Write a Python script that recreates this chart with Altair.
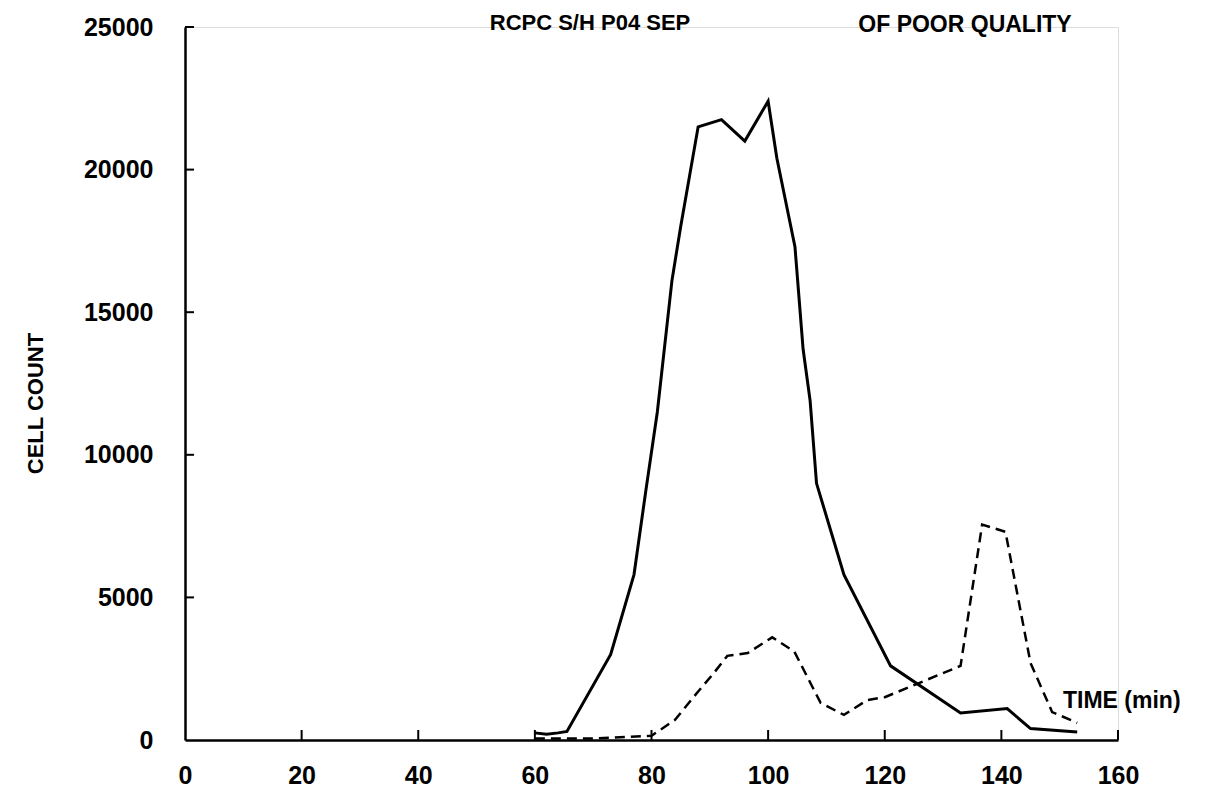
import altair as alt
import pandas as pd

# Solid curve (time in min, cell count)
solid_time = [60, 62, 64, 65.5, 73, 77, 79, 81, 83.5, 85, 88, 92, 96, 100, 101.5, 104.6, 106, 107.2, 108.3, 113, 121, 133, 141, 145, 153]
solid_count = [250, 200, 250, 300, 3000, 5800, 8700, 11500, 16100, 18000, 21500, 21750, 21000, 22400, 20400, 17300, 13700, 11900, 9000, 5800, 2600, 950, 1100, 400, 280]

# Dashed curve
dash_time = [60, 70, 80, 84, 88, 90.5, 93, 96.5, 100.7, 104.5, 107, 109, 113, 117, 120, 133, 136.7, 140.7, 145, 148.7, 153]
dash_count = [50, 50, 150, 700, 1700, 2300, 2950, 3050, 3600, 3100, 2100, 1300, 880, 1400, 1500, 2600, 7550, 7300, 2700, 980, 600]

x_ticks = [0, 20, 40, 60, 80, 100, 120, 140, 160]
y_ticks = [0, 5000, 10000, 15000, 20000, 25000]

W, H = 933, 713
FONT = "Liberation Sans, Arial, Helvetica, sans-serif"

solid_df = pd.DataFrame({"time": solid_time, "count": solid_count})
dash_df = pd.DataFrame({"time": dash_time, "count": dash_count})
xt_df = pd.DataFrame({"t": x_ticks[1:]})
yt_df = pd.DataFrame({"c": y_ticks[1:]})

xscale = alt.Scale(domain=[0, 160], nice=False, zero=False)
yscale = alt.Scale(domain=[0, 25000], nice=False)

xaxis = alt.Axis(values=x_ticks, format="d", ticks=False, grid=False, domainColor="black", domainWidth=2.5,
                 labelFont=FONT, labelFontSize=25, labelFontWeight="bold", labelColor="black",
                 labelPadding=23, labelFlush=False, labelOverlap=False, title=None)
yaxis = alt.Axis(values=y_ticks, format="d", ticks=False, grid=False, domainColor="black", domainWidth=2.5,
                 labelFont=FONT, labelFontSize=25, labelFontWeight="bold", labelColor="black",
                 labelPadding=32, labelFlush=False, labelOverlap=False,
                 title="CELL COUNT", titleFont=FONT, titleFontSize=22, titleFontWeight="bold",
                 titleColor="black", titleX=-150, titleY=376, titleAngle=-90,
                 titleAlign="center", titleBaseline="middle")

solid = alt.Chart(solid_df).mark_line(color="black", strokeWidth=3).encode(
    x=alt.X("time:Q", scale=xscale, axis=xaxis),
    y=alt.Y("count:Q", scale=yscale, axis=yaxis),
)
dashed = alt.Chart(dash_df).mark_line(color="black", strokeWidth=2.5, strokeDash=[10, 6]).encode(
    x=alt.X("time:Q", scale=xscale),
    y=alt.Y("count:Q", scale=yscale),
)
xt = alt.Chart(xt_df).mark_rule(color="black", strokeWidth=2).encode(
    x=alt.X("t:Q", scale=xscale), y=alt.value(H), y2=alt.value(H - 10)
)
yt = alt.Chart(yt_df).mark_rule(color="black", strokeWidth=2).encode(
    y=alt.Y("c:Q", scale=yscale), x=alt.value(0), x2=alt.value(9)
)

def label(text, x, y, size, align="left"):
    return alt.Chart(pd.DataFrame({"s": [text]})).mark_text(
        font=FONT, fontSize=size, fontWeight="bold", color="black", align=align, baseline="alphabetic"
    ).encode(text="s:N", x=alt.value(x), y=alt.value(y))

time_lbl = label("TIME (min)", 1063 - 185, 708 - 27, 23)
title_lbl = label("RCPC S/H P04 SEP", 590 - 185, 30 - 27, 22, align="center")
poor_lbl = label("OF POOR QUALITY", 965 - 185, 32 - 27, 23, align="center")

chart = alt.layer(solid, dashed, xt, yt, time_lbl, title_lbl, poor_lbl).properties(
    width=W, height=H,
    autosize=alt.AutoSizeParams(type="none"),
    padding={"left": 177, "top": 19, "right": 90, "bottom": 50},
).configure_view(strokeWidth=0, stroke="transparent").configure(background="white")

chart.save("out.html", embed_options={"renderer": "svg", "actions": False})
